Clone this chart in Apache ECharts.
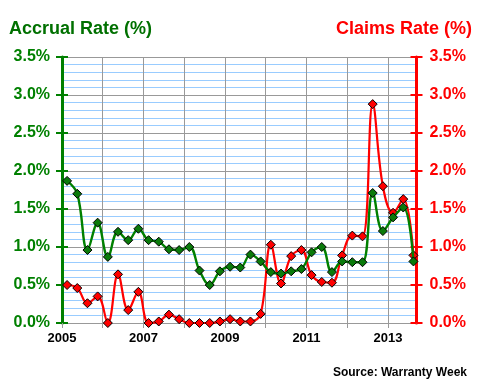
<!DOCTYPE html>
<html>
<head>
<meta charset="utf-8">
<script src="https://cdn.jsdelivr.net/npm/echarts@6/dist/echarts.min.js"></script>
<style>
html,body{margin:0;padding:0;background:#fff;}
#c{width:480px;height:380px;}
</style>
</head>
<body>
<div id="c"></div>
<script>
// Quarterly data 2005 Q1 .. 2013 Q3
var years = [2005,2006,2007,2008,2009,2010,2011,2012,2013];
var quartersPerYear = 4;
var accrualRate = [
  1.87, 1.70, 0.96, 1.32,
  0.87, 1.20, 1.09, 1.24,
  1.09, 1.07, 0.97, 0.96,
  1.00, 0.69, 0.50, 0.68,
  0.74, 0.73, 0.90, 0.81,
  0.67, 0.65, 0.68, 0.71,
  0.93, 1.00, 0.67, 0.81,
  0.80, 0.80, 1.71, 1.21,
  1.39, 1.52, 0.81
];
var claimsRate = [
  0.50, 0.46, 0.26, 0.35,
  0.00, 0.64, 0.17, 0.41,
  0.00, 0.02, 0.11, 0.05,
  0.00, 0.00, 0.00, 0.02,
  0.05, 0.02, 0.02, 0.12,
  1.03, 0.52, 0.88, 0.96,
  0.63, 0.54, 0.53, 0.89,
  1.15, 1.14, 2.88, 1.80,
  1.45, 1.63, 0.89
];
var yearLabels = ['2005','2007','2009','2011','2013'];
var yTicks = [0,0.5,1.0,1.5,2.0,2.5,3.0,3.5];

function quarterPos(i){
  var y = years[0] + Math.floor(i / quartersPerYear);
  var q = i % quartersPerYear;
  return y + (q + 0.5) / quartersPerYear;
}
var accrualData = accrualRate.map(function(v,i){ return [quarterPos(i), v]; });
var claimsData = claimsRate.map(function(v,i){ return [quarterPos(i), v]; });

var GREEN = '#008000', RED = '#ff0000', GRAY = '#999999', LBLUE = '#99ccff';
var FONT = 'Liberation Sans, Arial, sans-serif';
var yMin = yTicks[0], yMax = yTicks[yTicks.length-1], yInt = yTicks[1]-yTicks[0];

function pct(v){ return v.toFixed(1) + '%'; }

var chart = echarts.init(document.getElementById('c'), null, {renderer:'canvas'});
chart.setOption({
  animation: false,
  backgroundColor: '#ffffff',
  title: [
    {text: 'Accrual Rate (%)', left: 4, top: 15,
     textStyle: {color: '#007000', fontSize: 18, fontWeight: 'bold', fontFamily: FONT}},
    {text: 'Claims Rate (%)', right: 3, top: 15,
     textStyle: {color: RED, fontSize: 18, fontWeight: 'bold', fontFamily: FONT}},
    {text: 'Source: Warranty Week', right: 8, top: 362,
     textStyle: {color: '#000', fontSize: 12, fontWeight: 'bold', fontFamily: FONT}}
  ],
  grid: {left: 62, right: 63.5, top: 57, bottom: 57, containLabel: false},
  xAxis: {
    type: 'value', min: 2005, max: 2013.7, interval: 1,
    axisLine: {show: true, lineStyle: {color: GRAY, width: 1}},
    axisTick: {show: true, inside: false, length: 5, lineStyle: {color: GRAY, width: 1}},
    splitLine: {show: true, lineStyle: {color: GRAY, width: 1}},
    axisLabel: {
      margin: 9, color: '#000', fontSize: 13, fontWeight: 'bold', fontFamily: FONT,
      showMaxLabel: false,
      formatter: function(v){ var s = String(Math.round(v)); return (Math.abs(v-Math.round(v))<1e-6 && yearLabels.indexOf(s)>=0) ? s : ''; }
    }
  },
  yAxis: [
    {type: 'value', position: 'left', min: yMin, max: yMax, interval: yInt,
     axisLine: {show: true, lineStyle: {color: GREEN, width: 3}},
     axisTick: {show: true, inside: false, length: 6, lineStyle: {color: GREEN, width: 2}},
     minorTick: {show: false, splitNumber: 5},
     splitLine: {show: true, lineStyle: {color: GRAY, width: 1}},
     minorSplitLine: {show: true, lineStyle: {color: LBLUE, width: 1}},
     axisLabel: {margin: 12, color: GREEN, fontSize: 16, fontWeight: 'bold', fontFamily: FONT, formatter: pct}
    },
    {type: 'value', position: 'right', min: yMin, max: yMax, interval: yInt,
     axisLine: {show: true, lineStyle: {color: RED, width: 3}},
     axisTick: {show: true, inside: false, length: 6, lineStyle: {color: RED, width: 2}},
     splitLine: {show: false},
     axisLabel: {margin: 13, color: RED, fontSize: 16, fontWeight: 'bold', fontFamily: FONT, formatter: pct}
    },
    {type: 'value', position: 'left', min: yMin, max: yMax, interval: yInt, offset: 0,
     axisLine: {show: false},
     axisTick: {show: true, inside: true, length: 6, lineStyle: {color: GREEN, width: 2}},
     splitLine: {show: false}, axisLabel: {show: false}
    },
    {type: 'value', position: 'right', min: yMin, max: yMax, interval: yInt, offset: 0,
     axisLine: {show: false},
     axisTick: {show: true, inside: true, length: 6, lineStyle: {color: RED, width: 2}},
     splitLine: {show: false}, axisLabel: {show: false}
    }
  ],
  series: [
    {name: 'Claims Rate', type: 'line', yAxisIndex: 1, data: claimsData,
     smooth: 0.4, symbol: 'diamond', symbolSize: 9, z: 2,
     lineStyle: {color: RED, width: 2.2},
     itemStyle: {color: RED, borderColor: '#000', borderWidth: 1}
    },
    {name: 'Accrual Rate', type: 'line', yAxisIndex: 0, data: accrualData,
     smooth: 0.4, symbol: 'diamond', symbolSize: 9, z: 3,
     lineStyle: {color: GREEN, width: 2.4},
     itemStyle: {color: '#0a7a0a', borderColor: '#000', borderWidth: 1}
    }
  ]
});
</script>
</body>
</html>
